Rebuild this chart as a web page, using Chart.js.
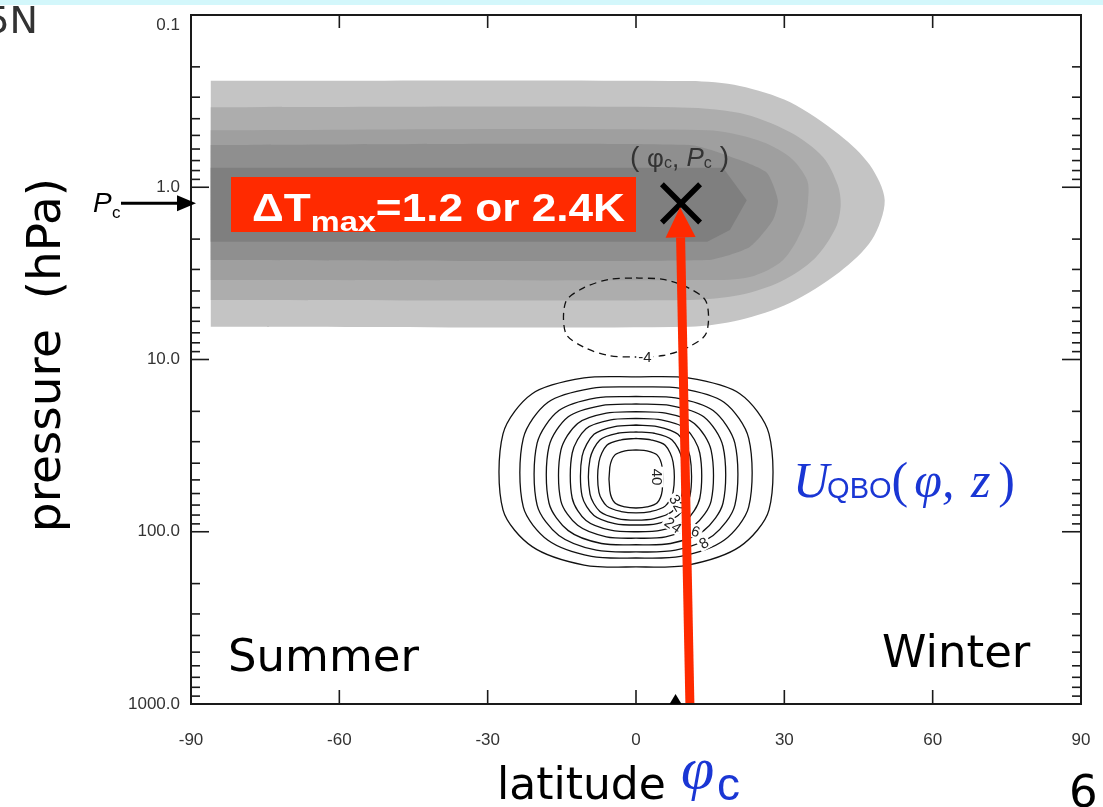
<!DOCTYPE html>
<html>
<head>
<meta charset="utf-8">
<script src="https://cdn.jsdelivr.net/npm/chart.js@4.4.1/dist/chart.umd.min.js"></script>
<style>
  html, body { margin: 0; padding: 0; background: #fff; }
  #wrap { width: 1103px; height: 807px; position: relative; }
</style>
</head>
<body>
<div id="wrap"><canvas id="chart"></canvas></div>
<script>
// axes
var xTicks = [-90, -60, -30, 0, 30, 60, 90];
var yTicks = [0.1, 1, 10, 100, 1000];
var yTickLabels = ['0.1', '1.0', '10.0', '100.0', '1000.0'];
var yMinorMult = [2, 3, 4, 5, 6, 7, 8, 9];

// heating centre (phi_c, P_c)
var phiC = 9.1;
var pC = 1.24;
var arrowFootLat = 10.9;
var axisMarkLat = 8;

// shaded heating bands, outer to inner (latitude, hPa)
var band1Lat = [-86, 10.9, 21.0, 31.1, 41.2, 47.3, 50.3, 47.7, 41.2, 31.1, 21.0, 10.9, -86];
var band1P = [0.241, 0.242, 0.258, 0.320, 0.497, 0.743, 1.19, 2.02, 3.10, 4.70, 5.90, 6.45, 6.45];
var band2Lat = [-86, 7.5, 21.0, 31.1, 37.8, 40.8, 41.4, 40.4, 36.2, 29.1, 21.0, 10.9, -86];
var band2P = [0.343, 0.343, 0.371, 0.478, 0.667, 0.970, 1.27, 1.72, 2.58, 3.55, 4.22, 4.51, 4.51];
var band3Lat = [-86, 14.4, 24.5, 31.1, 34.6, 34.8, 33.8, 29.7, 23.0, 14.4, -86];
var band3P = [0.467, 0.467, 0.532, 0.667, 0.908, 1.19, 1.70, 2.65, 3.32, 3.46, 3.46];
var band4Lat = [-86, 10.9, 21.0, 26.5, 28.7, 27.7, 23.0, 14.4, -86];
var band4P = [0.568, 0.568, 0.695, 0.826, 1.19, 1.55, 2.22, 2.645, 2.645];
var band5Lat = [-86, 17.6, 22.4, 19.0, 14.4, -86];
var band5P = [0.77, 0.77, 1.19, 1.77, 2.07, 2.07];

// QBO wind contours (m/s), latitude and hPa
var qbo4Lat = [0, 10.5, 21.0, 26.9, 26.9, 21.0, 10.5, 0, -10.5, -21.0, -26.9, -26.9, -21.0, -10.5, 0];
var qbo4P = [12.6, 12.8, 15.8, 27.0, 74.7, 122, 156, 160, 156, 122, 74.7, 27.0, 15.8, 12.8, 12.6];
var qbo8Lat = [0, 9.0, 17.8, 22.8, 22.8, 17.8, 9.0, 0, -9.0, -17.8, -22.8, -22.8, -17.8, -9.0, 0];
var qbo8P = [14.4, 14.7, 17.7, 28.7, 71.8, 112, 139, 142, 139, 112, 71.8, 28.7, 17.7, 14.7, 14.4];
var qbo12Lat = [0, 8.0, 15.6, 20.0, 20.0, 15.6, 8.0, 0, -8.0, -15.6, -20.0, -20.0, -15.6, -8.0, 0];
var qbo12P = [16.4, 16.7, 19.8, 30.6, 70.0, 105, 128, 131, 128, 105, 70.0, 30.6, 19.8, 16.7, 16.4];
var qbo16Lat = [0, 7.0, 13.7, 17.6, 17.6, 13.7, 7.0, 0, -7.0, -13.7, -17.6, -17.6, -13.7, -7.0, 0];
var qbo16P = [18.1, 18.5, 21.5, 32.0, 68.1, 98.5, 117, 119, 117, 98.5, 68.1, 32.0, 21.5, 18.5, 18.1];
var qbo20Lat = [0, 6.0, 11.8, 15.2, 15.2, 11.8, 6.0, 0, -6.0, -11.8, -15.2, -15.2, -11.8, -6.0, 0];
var qbo20P = [20.1, 20.5, 23.5, 33.7, 66.1, 91.8, 107, 109, 107, 91.8, 66.1, 33.7, 23.5, 20.5, 20.1];
var qbo24Lat = [0, 5.1, 10.1, 12.9, 12.9, 10.1, 5.1, 0, -5.1, -10.1, -12.9, -12.9, -10.1, -5.1, 0];
var qbo24P = [22.0, 22.4, 25.2, 34.9, 63.9, 86.0, 98.0, 100, 98.0, 86.0, 63.9, 34.9, 25.2, 22.4, 22.0];
var qbo28Lat = [0, 4.3, 8.5, 10.9, 10.9, 8.5, 4.3, 0, -4.3, -8.5, -10.9, -10.9, -8.5, -4.3, 0];
var qbo28P = [24.0, 24.5, 27.2, 36.4, 62.2, 80.4, 89.6, 91.4, 89.6, 80.4, 62.2, 36.4, 27.2, 24.5, 24.0];
var qbo32Lat = [0, 3.7, 7.3, 9.3, 9.3, 7.3, 3.7, 0, -3.7, -7.3, -9.3, -9.3, -7.3, -3.7, 0];
var qbo32P = [26.3, 26.8, 29.3, 37.8, 60.5, 76.2, 83.8, 85.5, 83.8, 76.2, 60.5, 37.8, 29.3, 26.8, 26.3];
var qbo36Lat = [0, 3.0, 5.9, 7.5, 7.5, 5.9, 3.0, 0, -3.0, -5.9, -7.5, -7.5, -5.9, -3.0, 0];
var qbo36P = [28.7, 29.3, 31.5, 39.4, 58.8, 71.0, 76.3, 77.8, 76.3, 71.0, 58.8, 39.4, 31.5, 29.3, 28.7];
var qbo40Lat = [0, 2.2, 4.3, 5.3, 5.3, 4.3, 2.2, 0, -2.2, -4.3, -5.3, -5.3, -4.3, -2.2, 0];
var qbo40P = [33.5, 33.9, 35.9, 42.3, 57.7, 67.9, 71.8, 72.8, 71.8, 67.9, 57.7, 42.3, 35.9, 33.9, 33.5];
var qboNeg4Lat = [0, 5.5, 10.6, 14.2, 14.2, 10.6, 5.5, 0, -5.5, -10.6, -14.2, -14.2, -10.6, -5.5, 0];
var qboNeg4P = [3.36, 3.43, 3.84, 4.62, 7.05, 8.47, 9.48, 9.67, 9.48, 8.47, 7.05, 4.62, 3.84, 3.43, 3.36];

// contour labels
var contourLabels = ['40', '32', '24', '16', '8', '-4'];
var contourLabelLat = [4.2, 8.3, 7.5, 11.3, 13.7, 1.8];
var contourLabelP = [48.1, 68.1, 91.4, 97.7, 116.3, 9.67];

var SANS = '"Liberation Sans", Arial, sans-serif';
var DEJA = '"DejaVu Sans", Verdana, sans-serif';
var SERIF = '"Liberation Serif", "Times New Roman", serif';
var BLUE = '#1a36d4';
var RED = '#ff2a00';

function pts(lat, p) {
  return lat.map(function (v, i) { return { x: v, y: p[i] }; });
}

function band(lat, p, color, order, tension) {
  return {
    data: pts(lat, p), showLine: true, fill: 'shape', backgroundColor: color,
    borderColor: 'rgba(0,0,0,0)', borderWidth: 1, pointRadius: 0, tension: tension, order: order
  };
}

function contour(lat, p, dashed) {
  return {
    data: pts(lat, p), showLine: true, fill: false, borderColor: '#111', borderWidth: 1.3,
    borderDash: dashed ? [7, 5] : [], pointRadius: 0, tension: 0.3, order: 2
  };
}

var datasets = [
  band(band1Lat, band1P, '#c4c4c4', 20, 0.3),
  band(band2Lat, band2P, '#adadad', 19, 0.3),
  band(band3Lat, band3P, '#9f9f9f', 18, 0.3),
  band(band4Lat, band4P, '#8f8f8f', 17, 0.2),
  band(band5Lat, band5P, '#7f7f7f', 16, 0),
  contour(qboNeg4Lat, qboNeg4P, true),
  contour(qbo4Lat, qbo4P), contour(qbo8Lat, qbo8P), contour(qbo12Lat, qbo12P),
  contour(qbo16Lat, qbo16P), contour(qbo20Lat, qbo20P), contour(qbo24Lat, qbo24P),
  contour(qbo28Lat, qbo28P), contour(qbo32Lat, qbo32P), contour(qbo36Lat, qbo36P),
  contour(qbo40Lat, qbo40P),
  {
    data: [{ x: phiC, y: pC }], pointStyle: 'crossRot', pointRadius: 27, borderWidth: 5.5,
    borderColor: '#000', backgroundColor: '#000', order: 0
  }
];

function line(ctx, x1, y1, x2, y2) {
  ctx.beginPath(); ctx.moveTo(x1, y1); ctx.lineTo(x2, y2); ctx.stroke();
}

var overlay = {
  id: 'overlay',
  afterDatasetsDraw: function (chart) {
    var ctx = chart.ctx, xs = chart.scales.x, ys = chart.scales.y, a = chart.chartArea;
    ctx.save();

    // contour labels
    var angles = [90, 60, 35, 20, -30, 0];
    ctx.font = '15px ' + SANS;
    ctx.textAlign = 'center';
    ctx.textBaseline = 'middle';
    contourLabels.forEach(function (t, i) {
      var px = xs.getPixelForValue(contourLabelLat[i]);
      var py = ys.getPixelForValue(contourLabelP[i]);
      ctx.save();
      ctx.translate(px, py);
      ctx.rotate(angles[i] * Math.PI / 180);
      var w = ctx.measureText(t).width;
      ctx.fillStyle = '#fff';
      ctx.fillRect(-w / 2 - 2, -7, w + 4, 14);
      ctx.fillStyle = '#222';
      ctx.fillText(t, 0, 1);
      ctx.restore();
    });

    // Delta T box
    ctx.fillStyle = RED;
    ctx.fillRect(231, 177, 405, 55);
    ctx.fillStyle = '#fff';
    ctx.textAlign = 'left';
    ctx.textBaseline = 'alphabetic';
    ctx.font = 'bold 38px ' + SANS;
    var w1 = ctx.measureText('\u0394T').width;
    var w3 = ctx.measureText('=1.2 or 2.4K').width;
    ctx.font = 'bold 28px ' + SANS;
    var w2 = ctx.measureText('max').width;
    ctx.save();
    ctx.translate(252, 0);
    ctx.scale(373 / (w1 + w2 + w3), 1);
    ctx.font = 'bold 38px ' + SANS;
    ctx.fillText('\u0394T', 0, 221);
    ctx.font = 'bold 28px ' + SANS;
    ctx.fillText('max', w1, 231);
    ctx.font = 'bold 38px ' + SANS;
    ctx.fillText('=1.2 or 2.4K', w1 + w2, 221);
    ctx.restore();

    // red arrow from the ground up to (phi_c, P_c)
    var tipX = xs.getPixelForValue(phiC) - 1, tipY = ys.getPixelForValue(pC) + 4;
    var footX = xs.getPixelForValue(arrowFootLat), footY = a.bottom;
    var dx = tipX - footX, dy = tipY - footY, len = Math.sqrt(dx * dx + dy * dy);
    var ux = dx / len, uy = dy / len;
    var bx = tipX - ux * 30, by = tipY - uy * 30;
    ctx.strokeStyle = RED;
    ctx.fillStyle = RED;
    ctx.lineWidth = 9;
    line(ctx, footX, footY, bx, by);
    ctx.beginPath();
    ctx.moveTo(tipX, tipY);
    ctx.lineTo(bx - uy * 15, by + ux * 15);
    ctx.lineTo(bx + uy * 15, by - ux * 15);
    ctx.closePath();
    ctx.fill();

    // frame and inward ticks
    ctx.strokeStyle = '#1a1a1a';
    ctx.lineWidth = 2;
    ctx.strokeRect(a.left, a.top, a.right - a.left, a.bottom - a.top);
    ctx.lineWidth = 1.6;
    xTicks.forEach(function (v) {
      var px = xs.getPixelForValue(v);
      line(ctx, px, a.top, px, a.top + 13);
      line(ctx, px, a.bottom, px, a.bottom - 14);
    });
    yTicks.forEach(function (v, i) {
      var py = ys.getPixelForValue(v);
      line(ctx, a.left, py, a.left + 18, py);
      line(ctx, a.right, py, a.right - 19, py);
      if (i < yTicks.length - 1) {
        yMinorMult.forEach(function (m) {
          var qy = ys.getPixelForValue(v * m);
          line(ctx, a.left, qy, a.left + 9, qy);
          line(ctx, a.right, qy, a.right - 9, qy);
        });
      }
    });

    // phi_c mark on the latitude axis
    var mx = xs.getPixelForValue(axisMarkLat);
    ctx.fillStyle = '#000';
    ctx.beginPath();
    ctx.moveTo(mx, a.bottom - 10);
    ctx.lineTo(mx + 6, a.bottom);
    ctx.lineTo(mx - 6, a.bottom);
    ctx.closePath();
    ctx.fill();

    // P_c arrow on the pressure axis
    var py = ys.getPixelForValue(pC);
    ctx.strokeStyle = '#000';
    ctx.lineWidth = 3;
    line(ctx, 121, py, 182, py);
    ctx.beginPath();
    ctx.moveTo(a.left + 5, py);
    ctx.lineTo(177, py - 8);
    ctx.lineTo(177, py + 8);
    ctx.closePath();
    ctx.fill();

    ctx.restore();
  },
  afterDraw: function (chart) {
    var ctx = chart.ctx;
    ctx.save();

    // slide header strip and cut text
    ctx.fillStyle = '#d3f7fb';
    ctx.fillRect(0, 0, 1103, 5);
    ctx.fillStyle = '#333';
    ctx.font = '38px ' + DEJA;
    ctx.textAlign = 'right';
    ctx.textBaseline = 'alphabetic';
    ctx.fillText('5N', 38, 33);

    ctx.textAlign = 'left';
    ctx.fillStyle = '#000';
    ctx.font = '45px ' + DEJA;
    ctx.fillText('Summer', 228, 671);
    ctx.fillText('Winter', 882, 667);
    ctx.fillText('6', 1069, 807);
    ctx.font = '44px ' + DEJA;
    ctx.fillText('latitude', 497, 799);

    ctx.fillStyle = BLUE;
    ctx.font = 'italic 60px ' + SERIF;
    ctx.fillText('\u03c6', 681, 788);
    ctx.font = '46px ' + SANS;
    ctx.fillText('c', 717, 800);

    // y title
    ctx.save();
    ctx.translate(60, 355);
    ctx.rotate(-Math.PI / 2);
    ctx.textAlign = 'center';
    ctx.fillStyle = '#000';
    ctx.font = '47px ' + DEJA;
    ctx.fillText('pressure  (hPa)', 0, 0);
    ctx.restore();

    // U_QBO(phi, z)
    var ux = 793, base = 497;
    ctx.fillStyle = BLUE;
    ctx.font = 'italic 50px ' + SERIF;
    ctx.fillText('U', ux, base); ux += ctx.measureText('U').width - 2;
    ctx.font = '29px ' + SANS;
    ctx.fillText('QBO', ux, base + 1); ux += ctx.measureText('QBO').width;
    ctx.font = '50px ' + SERIF;
    ctx.fillText('(', ux, base); ux += ctx.measureText('(').width + 6;
    ctx.font = 'italic 50px ' + SERIF;
    ctx.fillText('\u03c6,', ux, base); ux += ctx.measureText('\u03c6, ').width + 4;
    ctx.fillText('z', ux, base); ux += ctx.measureText('z').width + 8;
    ctx.font = '50px ' + SERIF;
    ctx.fillText(')', ux, base);

    // (phi_c, P_c) label
    var lx = 630;
    ctx.fillStyle = '#333';
    ctx.font = '28px ' + SANS;
    ctx.fillText('(', lx, 166); lx += ctx.measureText('( ').width;
    ctx.font = '26px ' + SANS;
    ctx.fillText('\u03c6', lx, 167); lx += ctx.measureText('\u03c6').width;
    ctx.font = '16px ' + SANS;
    ctx.fillText('c', lx, 168); lx += ctx.measureText('c').width;
    ctx.font = '26px ' + SANS;
    ctx.fillText(',', lx, 167); lx += ctx.measureText(', ').width;
    ctx.font = 'italic 26px ' + SANS;
    ctx.fillText('P', lx, 166); lx += ctx.measureText('P').width;
    ctx.font = '16px ' + SANS;
    ctx.fillText('c', lx, 168); lx += ctx.measureText('c').width + 8;
    ctx.font = '28px ' + SANS;
    ctx.fillText(')', lx, 166);

    // P_c label on the left
    ctx.fillStyle = '#000';
    ctx.font = 'italic 28px ' + SANS;
    ctx.fillText('P', 93, 212);
    ctx.font = '17px ' + SANS;
    ctx.fillText('c', 112, 218);

    ctx.restore();
  }
};

new Chart(document.getElementById('chart'), {
  type: 'scatter',
  data: { datasets: datasets },
  options: {
    responsive: true,
    maintainAspectRatio: false,
    animation: false,
    events: [],
    layout: { autoPadding: false, padding: { top: 15, right: 22, left: 0, bottom: 0 } },
    plugins: { legend: { display: false }, tooltip: { enabled: false } },
    scales: {
      x: {
        type: 'linear', min: -90, max: 90,
        grid: { display: false, drawTicks: false },
        border: { display: false },
        afterBuildTicks: function (s) { s.ticks = xTicks.map(function (v) { return { value: v }; }); },
        afterFit: function (s) { s.height = 103; s.paddingLeft = 0; s.paddingRight = 0; },
        ticks: {
          padding: 26, color: '#333', autoSkip: false, maxRotation: 0,
          font: { family: SANS, size: 17 },
          callback: function (v) { return String(v); }
        }
      },
      y: {
        type: 'logarithmic', reverse: true, min: 0.1, max: 1000,
        grid: { display: false, drawTicks: false },
        border: { display: false },
        afterBuildTicks: function (s) { s.ticks = yTicks.map(function (v) { return { value: v }; }); },
        afterFit: function (s) { s.width = 191; s.paddingTop = 0; s.paddingBottom = 0; },
        ticks: {
          padding: 11, color: '#333', autoSkip: false,
          font: { family: SANS, size: 17 },
          // the top label sits just under the frame, as in the original plot
          callback: function (v, i) { return i === 0 ? ['', yTickLabels[i]] : yTickLabels[i]; }
        }
      }
    }
  },
  plugins: [overlay]
});
</script>
</body>
</html>
